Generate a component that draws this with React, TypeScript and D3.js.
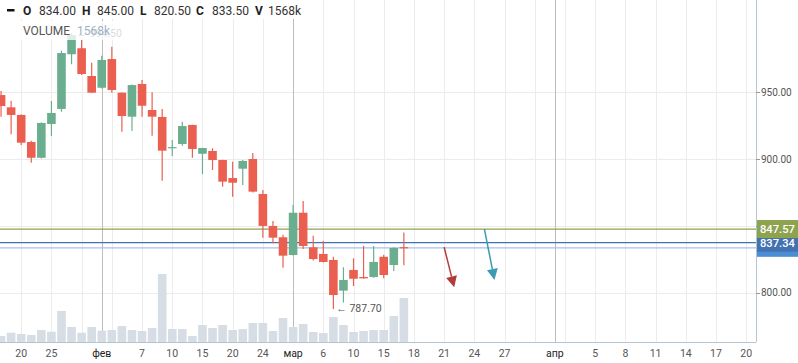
import React from "react";
import * as d3 from "d3";

const W = 798;
const H = 363;

// Trading days (history)
const tradeDates = [
  "2023-01-18", "2023-01-19", "2023-01-20", "2023-01-23", "2023-01-24", "2023-01-25", "2023-01-26", "2023-01-27", "2023-01-30", "2023-01-31",
  "2023-02-01", "2023-02-02", "2023-02-03", "2023-02-06", "2023-02-07", "2023-02-08", "2023-02-09", "2023-02-10", "2023-02-13", "2023-02-14",
  "2023-02-15", "2023-02-16", "2023-02-17", "2023-02-20", "2023-02-21", "2023-02-22", "2023-02-24", "2023-02-27", "2023-02-28",
  "2023-03-01", "2023-03-02", "2023-03-03", "2023-03-06", "2023-03-07", "2023-03-09", "2023-03-10", "2023-03-13", "2023-03-14", "2023-03-15",
  "2023-03-16", "2023-03-17",
];
const opens = [
  948.0, 938.8, 933.1, 912.8, 901.0, 926.3, 937.6, 978.6, 983.1, 962.3,
  953.5, 975.0, 949.8, 931.8, 956.3, 936.8, 931.6, 908.5, 911.3, 925.6,
  904.0, 906.1, 899.3, 885.8, 892.8, 900.1, 873.8, 849.9, 841.4,
  828.1, 859.8, 833.9, 828.9, 824.4, 801.4, 816.9, 811.6, 811.6, 826.8,
  820.6, 834.0,
];
const highs = [
  951.0, 943.8, 933.5, 913.8, 927.5, 943.6, 981.3, 994.5, 989.3, 972.3,
  977.5, 984.3, 950.0, 956.0, 959.3, 950.1, 937.6, 914.3, 928.0, 925.8,
  908.5, 908.1, 899.5, 898.1, 899.3, 904.6, 876.8, 853.6, 843.3,
  865.6, 868.6, 842.6, 838.6, 826.8, 818.9, 825.6, 834.9, 834.9, 828.3,
  834.0, 845.0,
];
const lows = [
  931.8, 918.6, 910.6, 897.3, 900.5, 917.3, 935.5, 971.1, 963.0, 949.5,
  953.0, 949.8, 920.5, 921.1, 931.8, 917.5, 883.8, 902.3, 910.0, 901.0,
  888.8, 891.8, 879.3, 871.8, 880.6, 875.0, 841.1, 836.9, 818.6,
  827.8, 832.6, 824.0, 822.5, 787.7, 792.4, 804.9, 810.3, 811.0, 810.6,
  816.1, 820.5,
];
const closes = [
  939.8, 933.1, 912.3, 901.0, 927.1, 934.6, 979.5, 993.0, 963.8, 949.8,
  974.3, 951.8, 932.3, 955.5, 940.0, 931.8, 906.3, 909.0, 924.8, 907.6,
  908.3, 899.3, 883.1, 882.3, 898.6, 875.6, 849.9, 841.1, 827.6,
  859.8, 834.9, 825.1, 822.9, 798.1, 809.4, 810.3, 810.6, 822.9, 813.1,
  833.4, 833.5,
];
// volume, thousands
const volumes = [
  214, 331, 285, 249, 427, 367, 1104, 534, 331, 534,
  402, 427, 570, 427, 392, 498, 2421, 463, 463, 214,
  605, 498, 605, 427, 463, 676, 676, 392, 854,
  534, 641, 356, 320, 890, 605, 356, 392, 427, 427,
  926, 1568,
];

const futureEnd = "2023-04-20";
const priceTicks = [800, 850, 900, 950];
const monthNames = ["янв", "фев", "мар", "апр", "май", "июн", "июл", "авг", "сен", "окт", "ноя", "дек"];

const levelValues = [847.57, 837.34];
const levelColors = ["#8da34e", "#4272b0"];

const arrowFromDates = ["2023-03-21", "2023-03-25"];
const arrowFromPrices = [834.0, 847.5];
const arrowToDates = ["2023-03-22", "2023-03-26"];
const arrowToPrices = [803.9, 809.4];
const arrowColors = ["#b23b3b", "#3a9bb2"];

const UP = "#6bae8f";
const DOWN = "#ea5f4f";
const FONT = "Roboto, 'Noto Sans', sans-serif";

const parse = d3.timeParse("%Y-%m-%d");
const fmt = d3.timeFormat("%Y-%m-%d");

function buildDates(): Date[] {
  const hist = tradeDates.map((d) => parse(d) as Date);
  const last = hist[hist.length - 1];
  const fut = d3.timeDay.range(d3.timeDay.offset(last, 1), d3.timeDay.offset(parse(futureEnd) as Date, 1));
  return [...hist, ...fut];
}

export default function App() {
  const allDates = buildDates();
  const idxOf = new Map(allDates.map((d, i) => [fmt(d), i]));
  const N = allDates.length;
  const step = 10.07;
  const x0 = 1.06;
  const x = d3.scaleLinear().domain([0, N - 1]).range([x0, x0 + step * (N - 1)]);
  const y = d3.scaleLinear().domain([800, 950]).range([292.5, 92.4]);
  const yVol = d3.scaleLinear().domain([0, 2421]).range([342, 274]);

  const plotRight = 756;
  const plotBottom = 342;
  const bw = 8.6;

  // ticks
  const monthTicks: number[] = [];
  for (let i = 1; i < N; i++) if (allDates[i].getMonth() !== allDates[i - 1].getMonth()) monthTicks.push(i);
  const regTicks: number[] = [];
  for (let i = 2; i < N; i += 3) regTicks.push(i);
  const labeledReg = regTicks.filter((i) => !monthTicks.some((m) => Math.abs(x(m) - x(i)) < 25 && m !== i) && !monthTicks.includes(i));

  const last = closes.length - 1;
  const maxI = d3.maxIndex(highs);
  const minI = d3.minIndex(lows);

  const px = (v: number) => Math.round(v) + 0.5;

  const lastClose = closes[last];
  const priceLabels = [
    { v: lastClose, color: "#4a8fd6", text: "" },
    { v: levelValues[1], color: levelColors[1], text: d3.format(".2f")(levelValues[1]) },
    { v: levelValues[0], color: levelColors[0], text: d3.format(".2f")(levelValues[0]) },
  ];

  const headerLabels = ["O", "H", "L", "C", "V"];
  const headerVals = [
    d3.format(".2f")(opens[last]),
    d3.format(".2f")(highs[last]),
    d3.format(".2f")(lows[last]),
    d3.format(".2f")(closes[last]),
    `${volumes[last]}k`,
  ];
  const headerLabelX = [23, 82, 140, 196, 255];
  const headerValX = [39, 97, 154, 212, 268];

  return (
    <div style={{ position: "fixed", left: 0, top: 0, width: W, height: H, background: "#fff" }}>
      <svg width={W} height={H} style={{ display: "block", fontFamily: FONT }}>
        <rect x={0} y={0} width={W} height={H} fill="#fff" />
        {/* horizontal grid */}
        {priceTicks.map((p) => (
          <line key={"hg" + p} x1={0} x2={plotRight} y1={px(y(p))} y2={px(y(p))} stroke="#ececec" strokeWidth={1} />
        ))}
        {/* vertical grid */}
        {regTicks.map((i) => (
          <line key={"vg" + i} x1={px(x(i))} x2={px(x(i))} y1={0} y2={plotBottom} stroke="#ececec" strokeWidth={1} />
        ))}
        {monthTicks.map((i) => (
          <line key={"mg" + i} x1={px(x(i))} x2={px(x(i))} y1={0} y2={plotBottom} stroke="#bdbdbd" strokeWidth={1} />
        ))}
        {/* volume */}
        {volumes.map((v, i) => (
          <rect key={"v" + i} x={x(i) - bw / 2} width={bw} y={yVol(v)} height={plotBottom - yVol(v)} fill="#d6dde4" />
        ))}
        {/* level lines */}
        <line x1={0} x2={plotRight} y1={y(lastClose)} y2={y(lastClose)} stroke="#a6c3e6" strokeWidth={1.2} />
        {levelValues.map((v, k) => (
          <line key={"lv" + k} x1={0} x2={plotRight} y1={y(v)} y2={y(v)} stroke={levelColors[k]} strokeWidth={1.3} />
        ))}
        {/* candles */}
        {opens.map((o, i) => {
          const c = closes[i];
          const up = c >= o;
          const col = up ? UP : DOWN;
          const top = y(Math.max(o, c));
          const bot = y(Math.min(o, c));
          const cx = x(i);
          return (
            <g key={"c" + i}>
              <line x1={cx} x2={cx} y1={y(highs[i])} y2={y(lows[i])} stroke={col} strokeWidth={1.2} />
              <rect x={cx - bw / 2} width={bw} y={top} height={Math.max(1.2, bot - top)} fill={col} />
            </g>
          );
        })}
        {/* arrows */}
        {arrowFromDates.map((fd, k) => {
          const x1 = x(idxOf.get(fd) as number);
          const y1 = y(arrowFromPrices[k]);
          const x2 = x(idxOf.get(arrowToDates[k]) as number);
          const y2 = y(arrowToPrices[k]);
          const dx = x2 - x1, dy = y2 - y1;
          const len = Math.hypot(dx, dy);
          const ux = dx / len, uy = dy / len;
          const hl = 11, hw = 5.5;
          const bx = x2 - ux * hl, by = y2 - uy * hl;
          const pts = `${x2},${y2} ${bx - uy * hw},${by + ux * hw} ${bx + uy * hw},${by - ux * hw}`;
          return (
            <g key={"a" + k}>
              <line x1={x1} y1={y1} x2={bx} y2={by} stroke={arrowColors[k]} strokeWidth={1.5} />
              <polygon points={pts} fill={arrowColors[k]} />
            </g>
          );
        })}
        {/* min / max labels */}
        <text x={x(minI) + 3} y={y(lows[minI])} dominantBaseline="central" fontSize={10.5} fill="#555">
          {"← " + d3.format(".2f")(lows[minI])}
        </text>
        <text x={x(maxI) + 5} y={y(highs[maxI])} dominantBaseline="central" fontSize={10.5} fill="#555">
          {"← " + d3.format(".2f")(highs[maxI])}
        </text>
        {/* axes lines */}
        <line x1={plotRight + 0.5} x2={plotRight + 0.5} y1={0} y2={plotBottom} stroke="#b4c6d4" strokeWidth={1} />
        <line x1={0} x2={plotRight} y1={plotBottom + 0.5} y2={plotBottom + 0.5} stroke="#b4c6d4" strokeWidth={1} />
        {/* y axis labels */}
        {priceTicks.map((p) => (
          <g key={"yl" + p}>
            <line x1={plotRight} x2={plotRight + 4} y1={px(y(p))} y2={px(y(p))} stroke="#999" />
            <text x={plotRight + 5} y={y(p)} dominantBaseline="central" fontSize={10} fill="#555">
              {d3.format(".2f")(p)}
            </text>
          </g>
        ))}
        {/* price labels */}
        {priceLabels.map((l, k) => (
          <g key={"pl" + k}>
            <rect x={plotRight + 1} y={y(l.v) - 9} width={W - plotRight - 1} height={18} fill={l.color} />
            {l.text && (
              <text x={plotRight + 4} y={y(l.v) + 0.5} dominantBaseline="central" fontSize={11.2} fontWeight={500} fill="#fff">
                {l.text}
              </text>
            )}
          </g>
        ))}
        {/* x axis labels */}
        {labeledReg.map((i) => (
          <text key={"xl" + i} x={x(i)} y={353} textAnchor="middle" dominantBaseline="central" fontSize={10.5} fill="#555">
            {allDates[i].getDate()}
          </text>
        ))}
        {monthTicks.map((i) => (
          <text key={"xm" + i} x={x(i)} y={353} textAnchor="middle" dominantBaseline="central" fontSize={10.5} fill="#222">
            {monthNames[allDates[i].getMonth()]}
          </text>
        ))}
        {/* header */}
        <rect x={0} y={0} width={310} height={19} fill="#fff" />
        <rect x={7} y={9} width={7.5} height={2.5} fill="#111" />
        {headerLabels.map((h, k) => (
          <g key={"h" + k}>
            <text x={headerLabelX[k]} y={15} fontSize={12} fontWeight={700} fill="#222">{h}</text>
            <text x={headerValX[k]} y={15} fontSize={12} fill="#333">{headerVals[k]}</text>
          </g>
        ))}
        <rect x={18} y={21} width={106} height={19} fill="#fff" fillOpacity={0.78} />
        <text x={23} y={35} fontSize={12} fill="#555">VOLUME</text>
        <text x={77} y={35} fontSize={12} fill="#9fb2c4">{`${volumes[last]}k`}</text>
      </svg>
    </div>
  );
}
